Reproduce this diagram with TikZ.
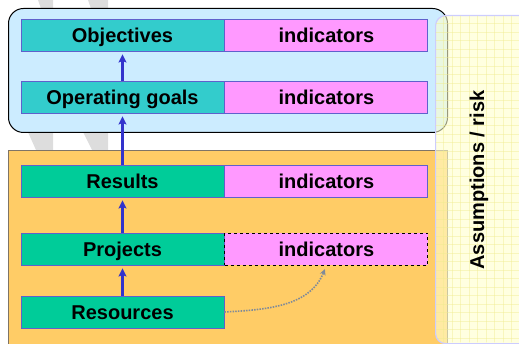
\documentclass[tikz,border=0pt]{standalone}
\usepackage{fontspec}
\setmainfont{Liberation Sans}
\usepackage{tikz}
\usetikzlibrary{positioning,arrows.meta}
\definecolor{cyan1}{HTML}{33CCCC}
\definecolor{green1}{HTML}{00CC99}
\definecolor{pink1}{HTML}{FF99FF}
\definecolor{sky1}{HTML}{CCECFF}
\definecolor{orange1}{HTML}{FFCC66}
\definecolor{yellow1}{HTML}{FFFFCC}
\definecolor{grid1}{HTML}{F0EC90}
\definecolor{lav1}{HTML}{CCCCFF}
\definecolor{edge1}{HTML}{6060CC}
\definecolor{arrow1}{HTML}{3333CC}
\definecolor{brown1}{HTML}{7F7466}
\definecolor{stripe1}{HTML}{DDDDDD}
\definecolor{dot1}{HTML}{7F8A99}

\begin{document}
\begin{tikzpicture}[
    x=1pt, y=-1pt, >=Stealth,
    lbox/.style={draw=edge1, line width=0.9pt, minimum width=203pt,
                 minimum height=32pt, inner sep=0pt,
                 text height=14.4pt, text depth=0pt,
                 font=\bfseries\fontsize{20}{24}\selectfont},
    ibox/.style={lbox, fill=pink1},
    upflow/.style={-{Stealth[length=8pt,width=8pt,inset=1.5pt]},
                   line width=2.4pt, color=arrow1, shorten >=3pt},
    frame/.style={inner sep=0pt, line width=1pt},
]
\useasboundingbox (0,0) rectangle (519,344);
\clip (0,0) rectangle (519,344);

% ── grey stripes ──
\fill[stripe1] (38,0) -- (53,0) -- (53,20) -- (45,20) -- cycle;
\fill[stripe1] (88,0) -- (108,0) -- (108,20) -- (95,20) -- cycle;
\fill[stripe1] (27,130) -- (53,130) -- (53,150) -- (36,150) -- cycle;
\fill[stripe1] (82,130) -- (108,130) -- (108,150) -- (92,150) -- cycle;

% ── frames ──
\node[frame, fill=sky1, draw=black, rounded corners=15pt,
      minimum width=439pt, minimum height=124pt,
      anchor=north west] (topf) at (8,8) {};
\node[frame, fill=orange1, draw=brown1,
      minimum width=439pt, minimum height=210pt,
      anchor=north west] (botf) at (8,150) {};

% ── assumptions / risk ──
\node[frame, fill=yellow1, fill opacity=0.6, draw=lav1, line width=1.2pt,
      rounded corners=10pt, minimum width=100pt, minimum height=328pt,
      anchor=north west] (risk) at (435,15) {};
\begin{scope}[opacity=0.45]
  \clip[rounded corners=10pt] (435.6,15.6) rectangle (535,342.4);
  \foreach \gx in {443.5,452,...,520} \draw[grid1, line width=0.5pt] (\gx,15) -- (\gx,343);
  \foreach \gy in {23.5,32,...,343} \draw[grid1, line width=0.5pt] (435,\gy) -- (535,\gy);
\end{scope}
\node[rotate=90, font=\bfseries\fontsize{20}{24}\selectfont]
    (risklabel) at (479,180) {Assumptions / risk};

% ── rows ──
\node[lbox, fill=cyan1] (obj) at (122.5,35) {Objectives};
\node[ibox, right=0pt of obj] (objind) {indicators};

\node[lbox, fill=cyan1] (goals) at (122.5,97) {Operating goals};
\node[ibox, right=0pt of goals] (goalsind) {indicators};

\node[lbox, fill=green1] (res) at (122.5,181) {Results};
\node[ibox, right=0pt of res] (resind) {indicators};

\node[lbox, fill=green1] (proj) at (122.5,249) {Projects};
\node[ibox, draw=black, dashed, right=0pt of proj] (projind) {indicators};

\node[lbox, fill=green1] (src) at (122.5,312) {Resources};

% ── arrows ──
\draw[upflow] (goals) -- (obj);
\draw[upflow] (res) -- (goals);
\draw[upflow] (proj) -- (res);
\draw[upflow] (src) -- (proj);

\draw[-{Stealth[length=6pt,width=6pt]}, dot1, line width=1.6pt,
      dash pattern=on 1.5pt off 1.2pt, shorten >=4pt]
    (src.east) to[out=3, in=-112] (projind.south);

\end{tikzpicture}
\end{document}
